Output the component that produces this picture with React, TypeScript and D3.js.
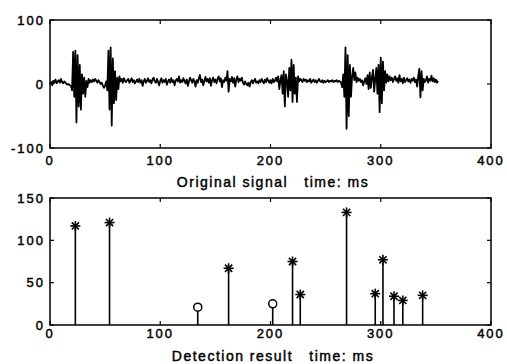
import * as d3 from 'd3';

// original signal, one sample per ms (0..352)
const signal = [
  0, 3, -2, 5, 2, 7, 1, 4, 6, 2,
  8, 3, 1, 4, 2, 0, -1, 0, -2, -3,
  -10, 50, -20, 52, -60, 45, -35, 30, -40, 15,
  -15, 10, -20, 5, -5, 8, 2, 6, 3, 7,
  4, 8, 5, 2, 6, 3, 0, 2, -3, -6,
  -2, 4, -10, 52, -40, 57, -65, 40, -30, 20,
  -25, 10, -8, 12, 4, 8, 2, 9, 5, 3,
  6, 8, 2, 5, 9, 3, 6, 1, 4, 7,
  3, 8, 2, 6, -3, 4, 8, 2, 5, 9,
  3, 6, 1, 7, 10, 4, 2, 8, 3, -2,
  5, 9, 2, 6, 3, 8, -1, 4, 7, 2,
  9, 3, 6, -2, 5, 8, 4, 12, 2, 6,
  3, 9, 5, 1, 7, -3, 4, 10, 6, 2,
  8, 4, -4, 6, 2, 9, 14, 3, 7, -2,
  5, 11, 4, 8, 2, 9, -3, 6, 10, 3,
  7, 1, 8, 12, 4, 9, -5, 6, 3, 10,
  5, 20, -12, 8, 4, 11, 2, 9, -4, 7,
  12, 3, 8, 5, 10, 2, -1, 4, 0, -2,
  2, -4, 3, 6, 1, 5, 8, 2, 4, 1,
  6, 3, 8, 4, 1, 7, 3, 9, 5, 2,
  6, 1, 8, 3, 5, 10, 4, 12, -8, 6,
  14, -15, 20, -35, 15, 5, -20, 25, -10, 38,
  -28, 30, -15, 10, -28, 12, 4, 8, 6, 3,
  8, 5, 7, 3, 6, 4, 8, 2, 5, 7,
  3, 6, 2, 5, 8, 4, 3, 6, 2, 5,
  3, 4, 6, 3, 5, 4, 6, 3, 5, 4,
  6, 3, 5, 4, 2, -5, 15, -20, 57, -70,
  45, -50, 30, -20, 12, 25, 6, 18, 3, 10,
  5, 8, 3, 6, -2, 4, 9, 0, 14, -8,
  18, -6, 10, 22, -12, 8, 25, -15, 30, -44,
  41, -30, 35, -10, 20, 2, 15, 4, 12, 6,
  10, 3, 8, 12, 5, 9, 2, 14, 4, 8,
  1, 10, 3, 6, 9, 4, 7, 2, 8, 5,
  10, 3, 7, -4, 12, 24, -21, 20, -10, 8,
  3, 6, 12, 2, 8, 5, 13, 4, 9, 3,
  7, 2, 5,
];

// detection result: accepted peaks (stars) and rejected ones (circles)
const starTimes = [23, 54, 162, 220, 227, 269, 295, 302, 312, 320, 338];
const starValues = [117, 121, 67, 75, 36, 133, 37, 77, 34, 29, 35];
const circleTimes = [134, 202];
const circleValues = [21, 25];

const xTicks = [0, 100, 200, 300, 400];
const topYTicks = [-100, 0, 100];
const bottomYTicks = [0, 50, 100, 150];

const W = 507;
const H = 364;
const left = 50;
const right = 491;
const font = "'Liberation Sans', Arial, Helvetica, sans-serif";

const x = d3.scaleLinear().domain([0, 400]).range([left, right]);
const yTop = d3.scaleLinear().domain([-100, 100]).range([148, 20]);
const yBot = d3.scaleLinear().domain([0, 150]).range([325, 198]);

// scanned print: regular face with a thin outline to thicken strokes
const textStyle = { fontFamily: font, stroke: '#000', strokeWidth: 0.45 };

function Frame({ y, yTicks, labelY, title, titleY }: any) {
  const [y0, y1] = y.range();
  const t = 4;
  return (
    <g>
      <rect x={left} y={y1} width={right - left} height={y0 - y1} fill="none" stroke="#000" strokeWidth={1.5} />
      {xTicks.map((v) => (
        <g key={'x' + v}>
          <line x1={x(v)} x2={x(v)} y1={y0} y2={y0 - t} stroke="#000" strokeWidth={1.2} />
          <line x1={x(v)} x2={x(v)} y1={y1} y2={y1 + t} stroke="#000" strokeWidth={1.2} />
          <text x={x(v)} y={labelY} textAnchor="middle" fontSize={13} letterSpacing={2} style={textStyle}>{v}</text>
        </g>
      ))}
      {yTicks.map((v: number) => (
        <g key={'y' + v}>
          <line x1={left} x2={left + t} y1={y(v)} y2={y(v)} stroke="#000" strokeWidth={1.2} />
          <line x1={right} x2={right - t} y1={y(v)} y2={y(v)} stroke="#000" strokeWidth={1.2} />
          <text x={45} y={y(v) + 4.5} textAnchor="end" fontSize={13} letterSpacing={2} style={textStyle}>{v}</text>
        </g>
      ))}
      <text x={273} y={titleY} textAnchor="middle" fontSize={14} letterSpacing={1.5} style={{ ...textStyle, whiteSpace: 'pre' }}>{title}</text>
    </g>
  );
}

function Star({ cx, cy }: { cx: number; cy: number }) {
  const r = 5;
  const d = r * 0.72;
  return (
    <g stroke="#000" strokeWidth={1.6}>
      <line x1={cx - r} x2={cx + r} y1={cy} y2={cy} />
      <line x1={cx} x2={cx} y1={cy - r} y2={cy + r} />
      <line x1={cx - d} x2={cx + d} y1={cy - d} y2={cy + d} />
      <line x1={cx - d} x2={cx + d} y1={cy + d} y2={cy - d} />
    </g>
  );
}

export default function App() {
  const line = d3
    .line<number>()
    .x((_, i) => x(i))
    .y((d) => yTop(d));

  return (
    <svg width={W} height={H} style={{ position: 'absolute', left: 0, top: 0, background: '#fff' }}>
      <rect width={W} height={H} fill="#fff" />
      <path d={line(signal) || ''} fill="none" stroke="#000" strokeWidth={1.8} strokeLinejoin="round" />
      <Frame y={yTop} yTicks={topYTicks} labelY={165} title={'Original signal   time: ms'} titleY={187} />

      {starTimes.map((t, i) => (
        <g key={'s' + i}>
          <line x1={x(t)} x2={x(t)} y1={yBot(0)} y2={yBot(starValues[i])} stroke="#000" strokeWidth={1.6} />
          <Star cx={x(t)} cy={yBot(starValues[i])} />
        </g>
      ))}
      {circleTimes.map((t, i) => (
        <g key={'c' + i}>
          <line x1={x(t)} x2={x(t)} y1={yBot(0)} y2={yBot(circleValues[i]) + 4} stroke="#000" strokeWidth={1.6} />
          <circle cx={x(t)} cy={yBot(circleValues[i])} r={4} fill="none" stroke="#000" strokeWidth={1.5} />
        </g>
      ))}
      <Frame y={yBot} yTicks={bottomYTicks} labelY={338} title={'Detection result   time: ms'} titleY={361} />
    </svg>
  );
}
